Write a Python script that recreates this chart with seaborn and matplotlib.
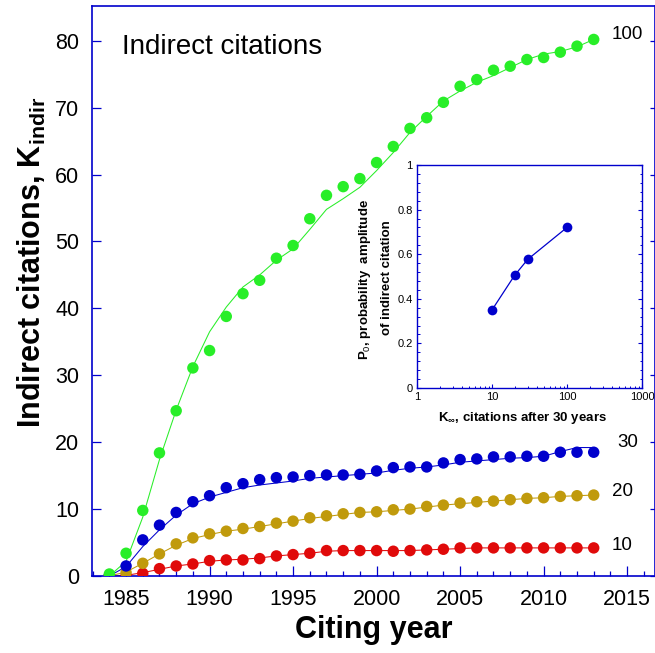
import numpy as np
import pandas as pd
import matplotlib
matplotlib.use("Agg")
import matplotlib.pyplot as plt
from matplotlib.ticker import MultipleLocator, FixedLocator, LogLocator, NullFormatter
import seaborn as sns

# ---- data ---------------------------------------------------------------
years = list(range(1984, 2014))

# measured indirect citations (dots), one series per K_inf group
k100_pts = [0.3, 3.4, 9.8, 18.4, 24.7, 31.1, 33.7, 38.8, 42.2, 44.2,
            47.5, 49.4, 53.4, 56.9, 58.2, 59.4, 61.8, 64.2, 66.9, 68.5,
            70.8, 73.2, 74.2, 75.6, 76.2, 77.2, 77.5, 78.3, 79.2, 80.2]
k30_pts = [0.1, 1.5, 5.4, 7.6, 9.5, 11.1, 12.0, 13.2, 13.8, 14.4,
           14.7, 14.8, 15.0, 15.1, 15.1, 15.2, 15.7, 16.2, 16.3, 16.3,
           16.9, 17.4, 17.5, 17.8, 17.8, 17.9, 17.9, 18.5, 18.5, 18.5]
k20_pts = [0.0, 0.5, 1.9, 3.3, 4.8, 5.7, 6.3, 6.7, 7.1, 7.4,
           7.9, 8.2, 8.7, 9.0, 9.3, 9.5, 9.6, 9.9, 10.0, 10.4,
           10.6, 10.9, 11.1, 11.2, 11.4, 11.6, 11.7, 11.9, 12.0, 12.1]
k10_pts = [0.0, 0.0, 0.4, 1.1, 1.5, 1.8, 2.3, 2.4, 2.4, 2.6,
           3.0, 3.2, 3.4, 3.8, 3.8, 3.8, 3.8, 3.7, 3.8, 3.9,
           4.0, 4.2, 4.2, 4.2, 4.2, 4.2, 4.2, 4.2, 4.2, 4.2]

# model curves (thin lines)
k100_fit = [0.0, 2.2, 8.8, 17.4, 24.8, 31.3, 36.5, 40.2, 43.2, 45.0,
            47.2, 48.9, 51.8, 54.8, 56.4, 58.1, 60.6, 63.3, 66.3, 68.7,
            71.0, 72.5, 73.8, 74.8, 76.0, 77.2, 78.0, 78.4, 79.1, 80.2]
k30_fit = [0.0, 1.4, 4.4, 6.9, 9.1, 10.8, 11.8, 12.5, 13.2, 13.6,
           13.9, 14.2, 14.6, 14.8, 15.0, 15.2, 15.4, 15.8, 16.1, 16.3,
           16.6, 17.0, 17.2, 17.4, 17.6, 17.7, 17.9, 18.6, 19.2, 19.2]
k20_fit = [0.0, 0.6, 1.9, 3.3, 4.6, 5.6, 6.2, 6.7, 7.0, 7.4,
           7.8, 8.2, 8.6, 8.9, 9.2, 9.5, 9.6, 9.8, 10.0, 10.3,
           10.6, 10.8, 11.0, 11.2, 11.4, 11.6, 11.7, 11.9, 12.0, 12.1]
k10_fit = [0.0, 0.1, 0.5, 1.0, 1.5, 1.8, 2.2, 2.4, 2.5, 2.7,
           3.0, 3.2, 3.4, 3.7, 3.8, 3.8, 3.8, 3.8, 3.8, 3.9,
           4.0, 4.1, 4.2, 4.2, 4.2, 4.2, 4.2, 4.2, 4.2, 4.2]

# inset: probability amplitude P0 vs K_inf
k_inf = [10, 20, 30, 100]
p0 = [0.35, 0.505, 0.577, 0.72]

group_names = ["10", "20", "30", "100"]
group_colors = ["#e00a0a", "#c09a0c", "#0000cc", "#28ee28"]
# end-of-curve labels (x, y in data units)
label_x = [2014.1, 2014.1, 2014.4, 2014.1]
label_y = [4.6, 12.6, 19.9, 80.9]

# ---- tidy tables ----------------------------------------------------------
pts = pd.DataFrame({
    "year": years * 4,
    "K": k10_pts + k20_pts + k30_pts + k100_pts,
    "group": sum([[g] * len(years) for g in group_names], []),
})
fits = pd.DataFrame({
    "year": years * 4,
    "K": k10_fit + k20_fit + k30_fit + k100_fit,
    "group": sum([[g] * len(years) for g in group_names], []),
})
inset_df = pd.DataFrame({"k_inf": k_inf, "p0": p0})
palette = dict(zip(group_names, group_colors))

# ---- style -----------------------------------------------------------------
sns.set_theme(style="white")
plt.rcParams["font.family"] = ["Liberation Sans", "DejaVu Sans"]
plt.rcParams["mathtext.fontset"] = "custom"
plt.rcParams["mathtext.rm"] = "Liberation Sans"
plt.rcParams["mathtext.it"] = "Liberation Sans:italic"
plt.rcParams["mathtext.bf"] = "Liberation Sans:bold"

spine_blue = "#0000cc"
W, H = 655, 653
fig = plt.figure(figsize=(W / 100, H / 100), dpi=100)

# main axes box in pixels: left 92, right 655, top 6, bottom 576
ax = fig.add_axes([92 / W, (H - 576) / H, 563 / W, 570 / H])

sns.lineplot(data=fits, x="year", y="K", hue="group", palette=palette,
             hue_order=group_names, linewidth=0.75, legend=False, ax=ax,
             zorder=2)
sns.scatterplot(data=pts, x="year", y="K", hue="group", palette=palette,
                hue_order=group_names, s=68, linewidth=0, legend=False,
                ax=ax, zorder=3)

for name, lx, ly in zip(group_names, label_x, label_y):
    ax.text(lx, ly, name, fontsize=13.5, ha="left", va="center",
            color="black", clip_on=False)

ax.text(0.0534, 0.916, "Indirect citations", transform=ax.transAxes,
        fontsize=20, ha="left", va="baseline", color="black")

ax.set_xlim(1982.96, 2016.67)
ax.set_ylim(0, 85.2)
ax.xaxis.set_major_locator(FixedLocator(range(1985, 2016, 5)))
ax.xaxis.set_minor_locator(MultipleLocator(1))
ax.yaxis.set_major_locator(FixedLocator(range(0, 81, 10)))
ax.yaxis.set_minor_locator(FixedLocator([]))

for sp in ax.spines.values():
    sp.set_color(spine_blue)
    sp.set_linewidth(1.2)
    sp.set_visible(True)

ax.tick_params(axis="x", which="major", direction="in", length=7.2,
               width=0.9, color=spine_blue, labelsize=15.5, pad=9.5,
               labelcolor="black", bottom=True, top=False)
ax.tick_params(axis="x", which="minor", direction="in", length=3.6,
               width=0.9, color=spine_blue, bottom=True, top=False)
ax.tick_params(axis="y", which="major", direction="in", length=6.5,
               width=0.9, color=spine_blue, labelsize=15.5, pad=9,
               labelcolor="black", left=True, right=True)
for t in ax.yaxis.get_major_ticks():
    t.tick2line.set_markersize(3.6)

ax.set_xlabel("Citing year", fontsize=22, fontweight="bold", color="black")
ax.set_ylabel(r"Indirect citations, $\mathbf{K_{indir}}$", fontsize=22,
              fontweight="bold", color="black")
ax.xaxis.set_label_coords(0.5, -0.068)
ax.yaxis.set_label_coords(-0.078, 0.551)

# ---- inset ---------------------------------------------------------------
axi = fig.add_axes([417 / W, (H - 388) / H, 225 / W, 223 / H])
sns.lineplot(data=inset_df, x="k_inf", y="p0", color=spine_blue,
             marker="o", markersize=7, markeredgewidth=0, linewidth=0.9,
             ax=axi)
axi.set_xscale("log")
axi.set_xlim(1, 1000)
axi.set_ylim(0, 1)
axi.xaxis.set_major_locator(FixedLocator([1, 10, 100, 1000]))
axi.xaxis.set_minor_locator(LogLocator(base=10, subs=np.arange(2, 10)))
axi.xaxis.set_minor_formatter(NullFormatter())
axi.set_xticklabels(["1", "10", "100", "1000"])
axi.yaxis.set_major_locator(FixedLocator([0, 0.2, 0.4, 0.6, 0.8, 1.0]))
axi.yaxis.set_minor_locator(MultipleLocator(0.04))
axi.set_yticklabels(["0", "0.2", "0.4", "0.6", "0.8", "1"])
for sp in axi.spines.values():
    sp.set_color(spine_blue)
    sp.set_linewidth(1.0)
    sp.set_visible(True)
axi.tick_params(axis="both", which="major", direction="in", length=3,
                width=0.8, color=spine_blue, labelsize=8, pad=3,
                labelcolor="black")
axi.tick_params(axis="both", which="minor", direction="in", length=1.8,
                width=0.7, color=spine_blue)
axi.tick_params(axis="y", which="both", left=True, right=True)
axi.tick_params(axis="x", which="both", bottom=True, top=False)
axi.set_xlabel("")
axi.set_ylabel("")

axi.text(-0.231, 0.485, r"$\mathbf{P_{\mathit{0}}}$, probability  amplitude",
         transform=axi.transAxes, rotation=90, ha="center", va="center",
         fontsize=9.5, fontweight="bold", color="black")
axi.text(-0.133, 0.495, "of indirect citation", transform=axi.transAxes,
         rotation=90, ha="center", va="center", fontsize=9.5,
         fontweight="bold", color="black")
axi.text(0.467, -0.135, r"$\mathbf{K_{\infty}}$, citations after 30 years",
         transform=axi.transAxes, ha="center", va="center", fontsize=9.5,
         fontweight="bold", color="black")

fig.savefig("out.png", dpi=100, facecolor="white")
